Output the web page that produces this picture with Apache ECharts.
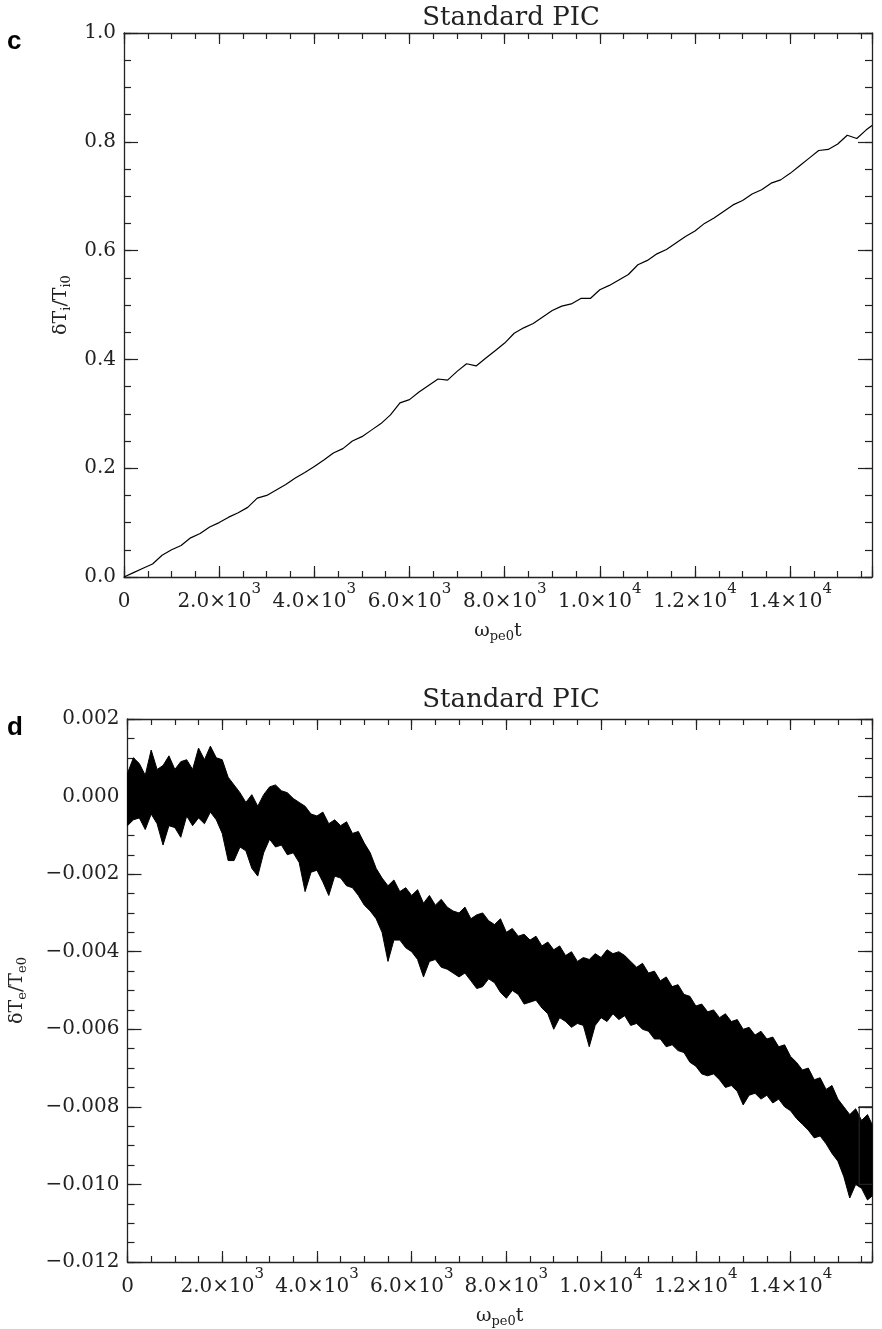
<!DOCTYPE html>
<html>
<head>
<meta charset="utf-8">
<script src="https://cdn.jsdelivr.net/npm/echarts@6/dist/echarts.min.js"></script>
<style>
  html, body { margin: 0; padding: 0; background: #fff; }
  #chart { width: 882px; height: 1329px; }
</style>
</head>
<body>
<div id="chart"></div>
<script>
// shared time axis (omega_pe0 t)
var tMax = 15720

// panel c: ion heating, every 200
var tiTime = [0, 200, 400, 600, 800, 1000, 1200, 1400, 1600, 1800, 2000, 2200, 2400, 2600, 2800, 3000,
  3200, 3400, 3600, 3800, 4000, 4200, 4400, 4600, 4800, 5000, 5200, 5400, 5600, 5800, 6000, 6200,
  6400, 6600, 6800, 7000, 7200, 7400, 7600, 7800, 8000, 8200, 8400, 8600, 8800, 9000, 9200, 9400,
  9600, 9800, 10000, 10200, 10400, 10600, 10800, 11000, 11200, 11400, 11600, 11800, 12000, 12200,
  12400, 12600, 12800, 13000, 13200, 13400, 13600, 13800, 14000, 14200, 14400, 14600, 14800, 15000,
  15200, 15400, 15600, 15720]
var tiValue = [0.000, 0.008, 0.016, 0.024, 0.040, 0.050, 0.058, 0.072, 0.080, 0.092, 0.100, 0.110,
  0.118, 0.128, 0.145, 0.150, 0.160, 0.170, 0.182, 0.192, 0.203, 0.215, 0.228, 0.236, 0.250, 0.258,
  0.270, 0.282, 0.298, 0.320, 0.326, 0.340, 0.352, 0.364, 0.362, 0.378, 0.392, 0.388, 0.402, 0.416,
  0.430, 0.448, 0.458, 0.466, 0.478, 0.490, 0.498, 0.502, 0.512, 0.512, 0.528, 0.536, 0.546, 0.556,
  0.574, 0.582, 0.594, 0.602, 0.614, 0.626, 0.636, 0.650, 0.660, 0.672, 0.684, 0.692, 0.704, 0.712,
  0.724, 0.730, 0.742, 0.756, 0.770, 0.784, 0.786, 0.796, 0.812, 0.806, 0.822, 0.830]

// panel d: electron temperature, noisy band read as upper / lower envelope every 125
var teTime = [0, 125, 250, 375, 500, 625, 750, 875, 1000, 1125, 1250, 1375, 1500, 1625, 1750, 1875,
  2000, 2125, 2250, 2375, 2500, 2625, 2750, 2875, 3000, 3125, 3250, 3375, 3500, 3625, 3750, 3875,
  4000, 4125, 4250, 4375, 4500, 4625, 4750, 4875, 5000, 5125, 5250, 5375, 5500, 5625, 5750, 5875,
  6000, 6125, 6250, 6375, 6500, 6625, 6750, 6875, 7000, 7125, 7250, 7375, 7500, 7625, 7750, 7875,
  8000, 8125, 8250, 8375, 8500, 8625, 8750, 8875, 9000, 9125, 9250, 9375, 9500, 9625, 9750, 9875,
  10000, 10125, 10250, 10375, 10500, 10625, 10750, 10875, 11000, 11125, 11250, 11375, 11500, 11625,
  11750, 11875, 12000, 12125, 12250, 12375, 12500, 12625, 12750, 12875, 13000, 13125, 13250, 13375,
  13500, 13625, 13750, 13875, 14000, 14125, 14250, 14375, 14500, 14625, 14750, 14875, 15000, 15125,
  15250, 15375, 15500, 15625, 15720]
var teUpper = [0.00060, 0.00100, 0.00085, 0.00055, 0.00120, 0.00070, 0.00080, 0.00105,
  0.00070, 0.00090, 0.00095, 0.00070, 0.00125, 0.00095, 0.00130, 0.00100,
  0.00095, 0.00050, 0.00030, 0.00010, -0.00015, 0.00005, -0.00025, 0.00005,
  0.00025, 0.00030, 0.00015, 0.00010, -0.00005, -0.00015, -0.00025, -0.00045,
  -0.00050, -0.00040, -0.00070, -0.00060, -0.00075, -0.00065, -0.00095, -0.00090,
  -0.00120, -0.00145, -0.00185, -0.00210, -0.00230, -0.00215, -0.00245, -0.00235,
  -0.00255, -0.00240, -0.00275, -0.00255, -0.00280, -0.00265, -0.00285, -0.00295,
  -0.00300, -0.00285, -0.00315, -0.00305, -0.00300, -0.00320, -0.00330, -0.00315,
  -0.00350, -0.00340, -0.00360, -0.00355, -0.00370, -0.00360, -0.00385, -0.00375,
  -0.00395, -0.00385, -0.00410, -0.00400, -0.00425, -0.00415, -0.00420, -0.00405,
  -0.00415, -0.00395, -0.00405, -0.00400, -0.00410, -0.00425, -0.00440, -0.00430,
  -0.00455, -0.00450, -0.00475, -0.00465, -0.00490, -0.00485, -0.00510, -0.00515,
  -0.00540, -0.00535, -0.00555, -0.00550, -0.00570, -0.00560, -0.00580, -0.00575,
  -0.00600, -0.00595, -0.00615, -0.00605, -0.00625, -0.00620, -0.00645, -0.00640,
  -0.00670, -0.00685, -0.00705, -0.00700, -0.00730, -0.00725, -0.00755, -0.00745,
  -0.00780, -0.00800, -0.00820, -0.00805, -0.00835, -0.00820, -0.00845]
var teLower = [-0.00075, -0.00060, -0.00055, -0.00085, -0.00045, -0.00070, -0.00125, -0.00075,
  -0.00080, -0.00105, -0.00050, -0.00075, -0.00055, -0.00070, -0.00040, -0.00060,
  -0.00095, -0.00165, -0.00165, -0.00130, -0.00140, -0.00185, -0.00205, -0.00145,
  -0.00110, -0.00130, -0.00125, -0.00150, -0.00145, -0.00170, -0.00245, -0.00195,
  -0.00190, -0.00220, -0.00255, -0.00205, -0.00210, -0.00230, -0.00235, -0.00255,
  -0.00280, -0.00295, -0.00315, -0.00350, -0.00425, -0.00370, -0.00370, -0.00390,
  -0.00400, -0.00420, -0.00465, -0.00425, -0.00420, -0.00440, -0.00445, -0.00455,
  -0.00465, -0.00455, -0.00475, -0.00495, -0.00490, -0.00470, -0.00480, -0.00505,
  -0.00520, -0.00500, -0.00510, -0.00535, -0.00530, -0.00525, -0.00545, -0.00560,
  -0.00600, -0.00570, -0.00580, -0.00595, -0.00585, -0.00590, -0.00645, -0.00590,
  -0.00570, -0.00580, -0.00560, -0.00575, -0.00565, -0.00590, -0.00585, -0.00600,
  -0.00605, -0.00625, -0.00625, -0.00645, -0.00640, -0.00655, -0.00660, -0.00685,
  -0.00695, -0.00715, -0.00720, -0.00715, -0.00730, -0.00750, -0.00745, -0.00760,
  -0.00795, -0.00770, -0.00765, -0.00780, -0.00770, -0.00790, -0.00780, -0.00800,
  -0.00810, -0.00830, -0.00845, -0.00860, -0.00880, -0.00875, -0.00895, -0.00920,
  -0.00940, -0.00980, -0.01035, -0.01000, -0.01010, -0.01040, -0.01030]

// small frame left on the right edge of panel d
var boxTime = [15450, 15720]
var boxValue = [-0.010, -0.008]

var font = 'DejaVu Serif'
var ink = '#222'

function zip (xs, ys) {
  return xs.map(function (x, i) { return [x, ys[i]] })
}

function xLabel (v) {
  if (v === 0) return '{m|0}'
  if (v % 2000 !== 0) return ''
  var e = Math.floor(Math.log10(v))
  var m = (v / Math.pow(10, e)).toFixed(1)
  return '{m|' + m + '\u00d710}{e|' + e + '}'
}

var subRich = {
  n: { fontFamily: font, fontSize: 19, color: ink, lineHeight: 24, verticalAlign: 'middle' },
  s: { fontFamily: font, fontSize: 13, color: ink, lineHeight: 12, verticalAlign: 'bottom' }
}

function xAxis (grid, pos, interval, len, main) {
  return {
    type: 'value', gridIndex: grid, position: pos, min: 0, max: tMax, interval: interval,
    axisLine: { show: main, onZero: false, lineStyle: { color: ink, width: 1.3 } },
    axisTick: { inside: true, length: len, lineStyle: { color: ink, width: 1.2 } },
    axisLabel: (main && pos === 'bottom') ? {
      margin: 5,
      formatter: xLabel,
      color: ink,
      fontFamily: font,
      fontSize: 20,
      rich: {
        m: { fontFamily: font, fontSize: 20, color: ink, lineHeight: 30, verticalAlign: 'bottom' },
        e: { fontFamily: font, fontSize: 15, color: ink, lineHeight: 12, verticalAlign: 'top' }
      }
    } : { show: false },
    name: (main && pos === 'bottom') ? '{n|\u03c9}{s|pe0}{n|t}' : '',
    nameLocation: 'middle',
    nameGap: 42,
    nameTextStyle: { rich: subRich },
    splitLine: { show: false }
  }
}

function yAxis (grid, pos, min, max, interval, len, main, fmt, name, gap) {
  return {
    type: 'value', gridIndex: grid, position: pos, min: min, max: max, interval: interval,
    axisLine: { show: main, onZero: false, lineStyle: { color: ink, width: 1.3 } },
    axisTick: { inside: true, length: len, lineStyle: { color: ink, width: 1.2 } },
    axisLabel: (main && pos === 'left') ? {
      margin: 8, formatter: fmt, color: ink, fontFamily: font, fontSize: 20
    } : { show: false },
    name: (main && pos === 'left') ? name : '',
    nameLocation: 'middle',
    nameRotate: 90,
    nameGap: gap,
    nameTextStyle: { rich: subRich },
    splitLine: { show: false }
  }
}

var fmtC = function (v) { return v.toFixed(1) }
var fmtD = function (v) {
  if (Math.abs(v) < 1e-9) return '0.000'
  return (v < 0 ? '\u2212' : '') + Math.abs(v).toFixed(3)
}
var nameC = '{n|\u03b4T}{s|i}{n|/T}{s|i0}'
var nameD = '{n|\u03b4T}{s|e}{n|/T}{s|e0}'

var myChart = echarts.init(document.getElementById('chart'))
var option = {
  animation: false,
  backgroundColor: '#fff',
  title: [
    { text: 'Standard PIC', left: 506, top: 0, textAlign: 'center',
      textStyle: { fontFamily: font, fontSize: 26, fontWeight: 'normal', color: ink } },
    { text: 'Standard PIC', left: 506, top: 682, textAlign: 'center',
      textStyle: { fontFamily: font, fontSize: 26, fontWeight: 'normal', color: ink } },
    { text: 'c', left: 2, top: 24,
      textStyle: { fontFamily: 'Liberation Sans', fontSize: 26, fontWeight: 'bold', color: '#000' } },
    { text: 'd', left: 2, top: 710,
      textStyle: { fontFamily: 'Liberation Sans', fontSize: 26, fontWeight: 'bold', color: '#000' } }
  ],
  grid: [
    { left: 124, right: 10, top: 33, height: 544 },
    { left: 124, right: 10, top: 719, height: 544 }
  ],
  xAxis: [
    xAxis(0, 'bottom', 2000, 11, true),
    xAxis(0, 'bottom', 500, 6, false),
    xAxis(0, 'top', 2000, 11, true),
    xAxis(0, 'top', 500, 6, false),
    xAxis(1, 'bottom', 2000, 11, true),
    xAxis(1, 'bottom', 500, 6, false),
    xAxis(1, 'top', 2000, 11, true),
    xAxis(1, 'top', 500, 6, false)
  ],
  yAxis: [
    yAxis(0, 'left', 0, 1, 0.2, 14, true, fmtC, nameC, 50),
    yAxis(0, 'left', 0, 1, 0.05, 7, false),
    yAxis(0, 'right', 0, 1, 0.2, 14, true),
    yAxis(0, 'right', 0, 1, 0.05, 7, false),
    yAxis(1, 'left', -0.012, 0.002, 0.002, 14, true, fmtD, nameD, 98),
    yAxis(1, 'left', -0.012, 0.002, 0.0005, 7, false),
    yAxis(1, 'right', -0.012, 0.002, 0.002, 14, true),
    yAxis(1, 'right', -0.012, 0.002, 0.0005, 7, false)
  ],
  series: [
    {
      type: 'line', xAxisIndex: 0, yAxisIndex: 0,
      data: zip(tiTime, tiValue),
      symbol: 'none',
      lineStyle: { color: '#000', width: 1.2 }
    },
    {
      // noise band between the envelopes
      type: 'custom', xAxisIndex: 4, yAxisIndex: 4,
      data: teTime.map(function (t, i) { return [t, teUpper[i], teLower[i]] }),
      encode: { x: 0, y: [1, 2] },
      clip: true,
      renderItem: function (params, api) {
        if (params.dataIndex !== 0) return null
        var pts = []
        for (var i = 0; i < teTime.length; i++) pts.push(api.coord([teTime[i], teUpper[i]]))
        for (var j = teTime.length - 1; j >= 0; j--) pts.push(api.coord([teTime[j], teLower[j]]))
        return {
          type: 'polygon',
          shape: { points: pts },
          style: { fill: '#000', stroke: '#000', lineWidth: 1 }
        }
      }
    },
    {
      type: 'line', xAxisIndex: 4, yAxisIndex: 4,
      data: [[boxTime[1], boxValue[1]], [boxTime[0], boxValue[1]], [boxTime[0], boxValue[0]], [boxTime[1], boxValue[0]]],
      symbol: 'none',
      lineStyle: { color: ink, width: 1.2 }
    }
  ]
}
option && myChart.setOption(option)
</script>
</body>
</html>
